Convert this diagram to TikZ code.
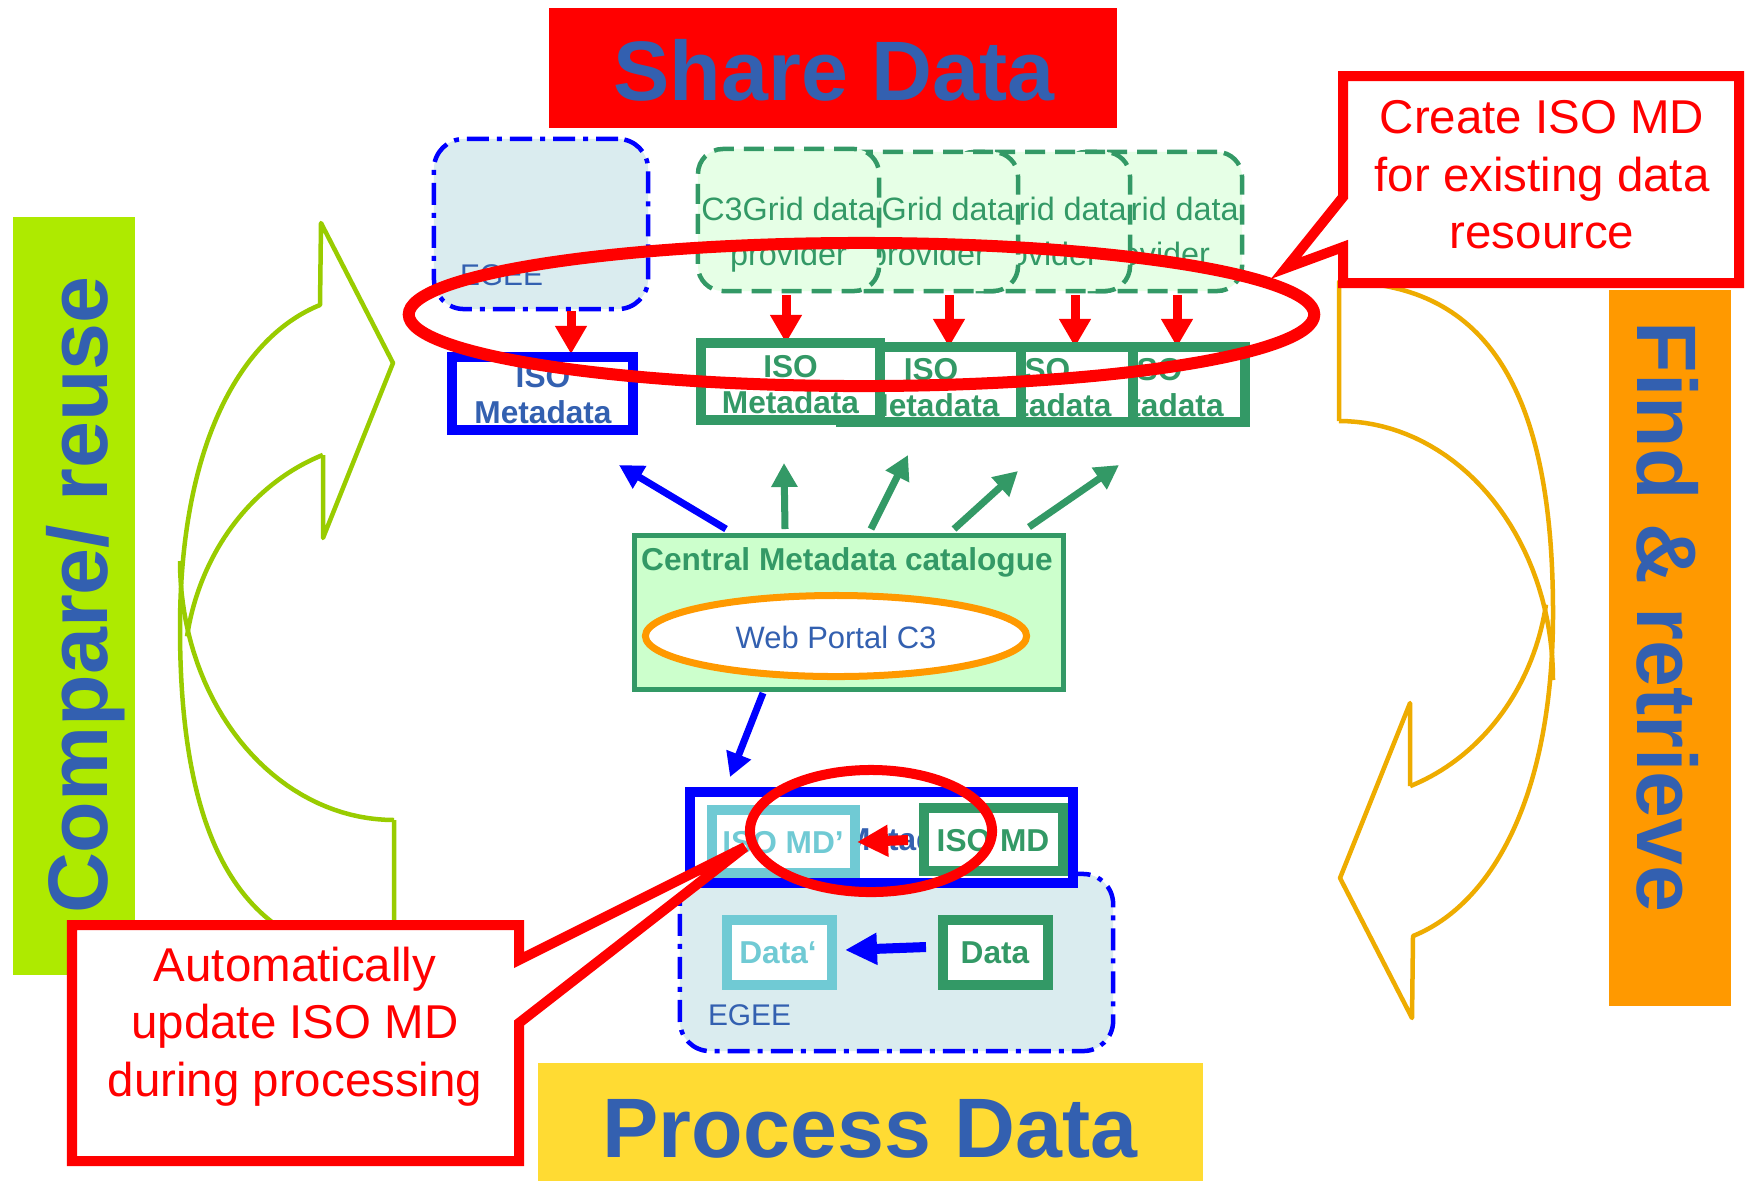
\documentclass[tikz,border=0pt]{standalone}
\usepackage{fontspec}
\setmainfont{Liberation Sans}
\usetikzlibrary{arrows.meta,shapes.geometric}

\definecolor{mdgreen}{RGB}{51,153,102}
\definecolor{provfill}{RGB}{230,255,230}
\definecolor{catfill}{RGB}{204,255,204}
\definecolor{egeefill}{RGB}{218,236,239}
\definecolor{cyanline}{RGB}{112,202,212}
\definecolor{txtblue}{RGB}{51,96,176}
\definecolor{limebar}{RGB}{174,234,0}
\definecolor{orangebar}{RGB}{255,153,0}
\definecolor{yellowbox}{RGB}{255,219,51}
\definecolor{leafline}{RGB}{153,204,0}
\definecolor{goldline}{RGB}{238,172,0}

% outline of the curved cycle arrow (tail at top left, head at bottom pointing left)
\newcommand{\loopoutline}{%
  \draw (1339,421) -- (1339,282)
        .. controls (1480,282) and (1553,380) .. (1553,613)
        .. controls (1553,800) and (1490,905) .. (1413,936)
        -- (1412,1018) -- (1340,878) -- (1410,703) -- (1410,786);
  \draw plot[domain=-90:0, samples=40, variable=\a] ({1339+214*cos(\a)}, {680+259*sin(\a)});
  \draw plot[domain=70.2:9.7, samples=40, variable=\a] ({1339+210*cos(\a)}, {565+235*sin(\a)});
}

\begin{document}
\begin{tikzpicture}[x=0.01cm, y=-0.01cm,
  every node/.style={inner sep=0pt, outer sep=0pt},
  panel/.style={rectangle, draw=none},
  bigword/.style={font=\fontsize{24}{28}\selectfont\bfseries, text=txtblue, anchor=base},
  egeebox/.style={rectangle, rounded corners=0.3cm, draw=blue, fill=egeefill, line width=0.045cm,
                  dash pattern=on 0.22cm off 0.08cm on 0.05cm off 0.08cm},
  egeelabel/.style={font=\fontsize{8.5}{10}\selectfont, text=txtblue, anchor=base west},
  provbox/.style={rectangle, rounded corners=0.25cm, draw=mdgreen, fill=provfill, line width=0.045cm,
                  dash pattern=on 0.2cm off 0.1cm, minimum width=1.81cm},
  provtext/.style={font=\fontsize{9.2}{11}\selectfont, text=mdgreen, anchor=base},
  isobox/.style={rectangle, draw=mdgreen, fill=white, line width=0.1cm},
  boldtext/.style={font=\fontsize{9}{11}\selectfont\bfseries, anchor=base},
  redarrow/.style={draw=red, line width=0.09cm, -{Triangle[length=0.28cm, width=0.3cm]}},
  greenarrow/.style={draw=mdgreen, line width=0.07cm, -{Triangle[length=0.24cm, width=0.25cm]}},
  bluearrow/.style={draw=blue, line width=0.07cm, -{Triangle[length=0.24cm, width=0.25cm]}},
  heavyblue/.style={draw=blue, line width=0.1cm, -{Triangle[length=0.32cm, width=0.3cm]}},
  heavyred/.style={draw=red, line width=0.1cm, -{Triangle[length=0.31cm, width=0.3cm]}},
  callout/.style={draw=red, fill=white, line width=0.1cm},
  callouttext/.style={font=\fontsize{13.5}{16}\selectfont, text=red, anchor=base},
  bendarrow/.style={line width=0.045cm, line join=round}
]
\useasboundingbox (0,0) rectangle (1746,1181);
\fill[white] (0,0) rectangle (1746,1181);

% side bars
\node[panel, fill=limebar, minimum width=1.22cm, minimum height=7.58cm] (reuseBar) at (74,596) {};
\node[bigword, rotate=90] (reuseText) at (107,595) {Compare/ reuse};
\node[panel, fill=orangebar, minimum width=1.22cm, minimum height=7.16cm] (findBar) at (1670,648) {};
\node[bigword, rotate=-90] (findText) at (1637,617) {Find \& retrieve};

% curved cycle arrows
\begin{scope}[goldline, bendarrow]
  \loopoutline
\end{scope}
\begin{scope}[rotate around={180:(866.5,620.5)}, leafline, bendarrow]
  \loopoutline
\end{scope}

% headline boxes
\node[panel, fill=red, minimum width=5.68cm, minimum height=1.2cm] (shareBox) at (833,68) {};
\node[bigword] (shareText) at (834,100) {Share Data};
\node[panel, fill=yellowbox, minimum width=6.65cm, minimum height=1.18cm] (processBox) at (870.5,1122) {};
\node[bigword] (processText) at (870,1157) {Process Data};

% EGEE resource (top)
\node[egeebox, minimum width=2.14cm, minimum height=1.7cm] (egeeTop) at (541,224) {};
\node[egeelabel] (egeeTopText) at (460,285) {EGEE};

% C3Grid data providers, back to front
\foreach \i/\cx/\cy/\h in {4/1151.5/221.5/1.39, 3/1039.5/221.5/1.39, 2/927.5/221.5/1.39, 1/788.5/220/1.42} {
  \node[provbox, minimum height=\h cm] (prov\i) at (\cx,\cy) {};
  \node[provtext] (provtop\i) at (\cx,220) {C3Grid data};
  \node[provtext] (provbot\i) at (\cx,265) {provider};
}

% metadata creation arrows
\coordinate (mkA1) at (571,311); \coordinate (mkB1) at (571,354);
\coordinate (mkA2) at (786,295); \coordinate (mkB2) at (786,343);
\coordinate (mkA3) at (949,295); \coordinate (mkB3) at (949,347);
\coordinate (mkA4) at (1075,295); \coordinate (mkB4) at (1075,347);
\coordinate (mkA5) at (1177,295); \coordinate (mkB5) at (1177,347);
\foreach \k in {1,...,5} { \draw[redarrow] (mkA\k) -- (mkB\k); }

% ISO metadata records, back to front
\foreach \i/\cx/\cy/\w/\h in {4/1155/384.5/1.8/0.75, 3/1043/384.5/1.8/0.75, 2/931/384.5/1.8/0.75, 1/790.5/381.5/1.79/0.77} {
  \node[isobox, minimum width=\w cm, minimum height=\h cm] (iso\i) at (\cx,\cy) {};
  \node[boldtext, text=mdgreen] (isotop\i) at (\cx,\cy-4.5) {ISO};
  \node[boldtext, text=mdgreen] (isobot\i) at (\cx,\cy+31.5) {Metadata};
}
\node[isobox, draw=blue, minimum width=1.81cm, minimum height=0.73cm] (isoTop) at (542.5,393.5) {};
\node[boldtext, text=txtblue] (isoTopA) at (543,387) {ISO};
\node[boldtext, text=txtblue] (isoTopB) at (543,423) {Metadata};

% highlight ring around the creation step
\node[ellipse, draw=red, line width=0.12cm, minimum width=9.05cm, minimum height=1.43cm] (ringTop) at (861.5,314.5) {};

% central catalogue
\node[rectangle, draw=mdgreen, fill=catfill, line width=0.05cm, minimum width=4.29cm, minimum height=1.54cm] (catalog) at (849,612.5) {};
\node[boldtext, text=mdgreen] (catalogTitle) at (847,570) {Central Metadata catalogue};
\node[ellipse, draw=orangebar, fill=white, line width=0.07cm, minimum width=3.81cm, minimum height=0.81cm] (portal) at (836,636) {};
\node[font=\fontsize{8.8}{10}\selectfont, text=txtblue, anchor=base] (portalText) at (836,648) {Web Portal C3};

% harvesting arrows
\coordinate (hvS1) at (726,529); \coordinate (hvE1) at (619,465);
\coordinate (hvS2) at (785,529); \coordinate (hvE2) at (784,463);
\coordinate (hvS3) at (871,529); \coordinate (hvE3) at (908,455);
\coordinate (hvS4) at (954,529); \coordinate (hvE4) at (1018,471);
\coordinate (hvS5) at (1029,527); \coordinate (hvE5) at (1119,465);
\draw[bluearrow] (hvS1) -- (hvE1);
\foreach \k in {2,...,5} { \draw[greenarrow] (hvS\k) -- (hvE\k); }
\coordinate (dnS) at (763,693); \coordinate (dnE) at (730,777);
\draw[bluearrow] (dnS) -- (dnE);

% EGEE processing (bottom)
\node[egeebox, minimum width=4.33cm, minimum height=1.77cm] (egeeLow) at (896.5,962.5) {};
\node[egeelabel] (egeeLowText) at (708,1025) {EGEE};
\node[isobox, draw=cyanline, minimum width=1.05cm, minimum height=0.65cm] (dataNew) at (779.5,952.5) {};
\node[boldtext, text=cyanline] (dataNewText) at (778,963) {Data‘};
\node[isobox, minimum width=1.05cm, minimum height=0.65cm] (dataOld) at (995.5,952.5) {};
\node[boldtext, text=mdgreen] (dataOldText) at (995,963) {Data};
\coordinate (dpS) at (926,947); \coordinate (dpE) at (845,950);
\draw[heavyblue] (dpS) -- (dpE);

\node[isobox, draw=blue, minimum width=3.83cm, minimum height=0.91cm] (mdBox) at (881.5,837.5) {};
\node[boldtext, text=txtblue] (mdBoxText) at (881,850) {ISO Metadata};
\node[isobox, draw=cyanline, minimum width=1.43cm, minimum height=0.63cm] (mdNew) at (783.5,841.5) {};
\node[boldtext, text=cyanline] (mdNewText) at (783,853) {ISO MD’};
\node[isobox, minimum width=1.39cm, minimum height=0.63cm] (mdOld) at (993.5,839.5) {};
\node[boldtext, text=mdgreen] (mdOldText) at (993,851) {ISO MD};
\coordinate (upS) at (908,840); \coordinate (upE) at (857,842);
\draw[heavyred] (upS) -- (upE);
\node[ellipse, draw=red, line width=0.1cm, minimum width=2.42cm, minimum height=1.22cm] (ringLow) at (871,831) {};

% callouts
\coordinate (tipTop) at (1286,268);
\draw[callout] (1343,76) -- (1739,76) -- (1739,283) -- (1343,283) -- (1343,247) -- (tipTop) -- (1343,197) -- cycle;
\node[callouttext] (createA) at (1542,133) {Create ISO MD};
\node[callouttext] (createB) at (1542,191) {for existing data};
\node[callouttext] (createC) at (1542,248) {resource};

\coordinate (tipLow) at (745,847);
\draw[callout] (72,925) -- (519,925) -- (519,960) -- (tipLow) -- (519,1023) -- (519,1161) -- (72,1161) -- cycle;
\node[callouttext] (autoA) at (295,981) {Automatically};
\node[callouttext] (autoB) at (295,1038) {update ISO MD};
\node[callouttext] (autoC) at (295,1096) {during processing};
\end{tikzpicture}
\end{document}
